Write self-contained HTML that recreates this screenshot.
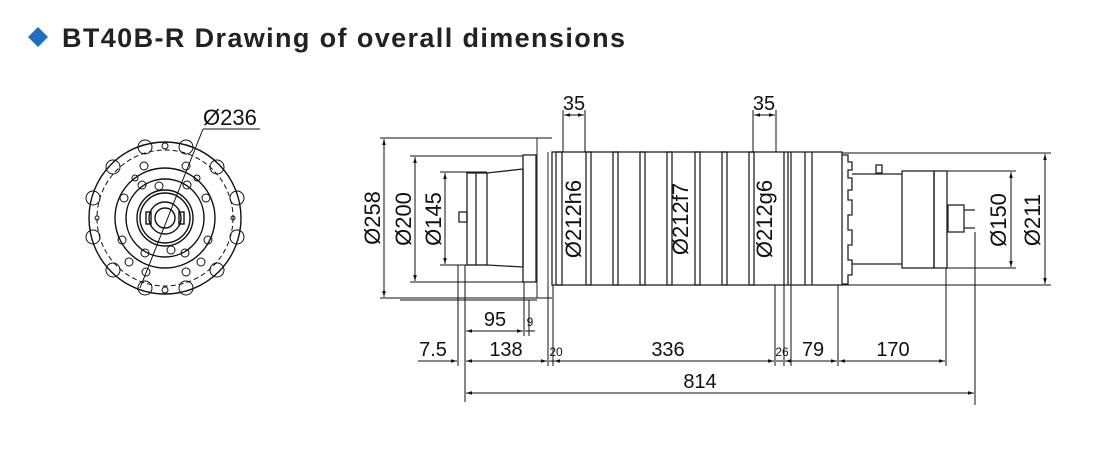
<!DOCTYPE html>
<html><head><meta charset="utf-8"><style>
html,body{margin:0;padding:0;background:#fff;}
svg{display:block;}
text{font-family:"Liberation Sans",sans-serif;fill:#111;}
</style></head><body>
<svg width="1103" height="461" viewBox="0 0 1103 461" xmlns="http://www.w3.org/2000/svg">
<defs>
<marker id="a" viewBox="0 0 10 10" refX="10" refY="5" markerWidth="6" markerHeight="6" orient="auto-start-reverse"><path d="M0,2 L10,5 L0,8 z" fill="#111"/></marker>
</defs>
<!-- title -->
<path d="M38,27 L48,37 L38,47 L28,37 z" fill="#1b6fc6"/>
<text x="62" y="47" font-size="27" font-weight="bold" textLength="563" lengthAdjust="spacing" style="fill:#222">BT40B-R Drawing of overall dimensions</text>

<!-- front view -->
<g fill="none" stroke="#111" stroke-width="1.4">
<circle cx="165" cy="218" r="76"/>
<circle cx="165" cy="218" r="68" stroke-dasharray="5,3" stroke-width="1"/>
<circle cx="165" cy="218" r="50"/>
<circle cx="165" cy="218" r="39"/>
<circle cx="165" cy="218" r="28"/>
<circle cx="165" cy="218" r="25"/>
<circle cx="165" cy="218" r="16"/>
<circle cx="165" cy="218" r="10"/>
<rect x="146" y="212" width="5" height="12"/>
<rect x="179" y="212" width="5" height="12"/>
</g>
<g fill="none" stroke="#111" stroke-width="1">
<circle cx="145" cy="147" r="7"/><circle cx="186" cy="147" r="7"/>
<circle cx="113" cy="167" r="7"/><circle cx="217" cy="167" r="7"/>
<circle cx="93" cy="198" r="7"/><circle cx="237" cy="198" r="7"/>
<circle cx="93" cy="237" r="7"/><circle cx="237" cy="237" r="7"/>
<circle cx="113" cy="270" r="7"/><circle cx="217" cy="270" r="7"/>
<circle cx="145" cy="288" r="7"/><circle cx="186" cy="288" r="7"/>
<circle cx="165" cy="146" r="3"/><circle cx="165" cy="290" r="3"/>
<circle cx="97" cy="218" r="2"/><circle cx="233" cy="218" r="2"/>
<!-- mid holes -->
<circle cx="142" cy="185" r="4"/><circle cx="187" cy="185" r="4"/>
<circle cx="206" cy="198" r="4"/><circle cx="124" cy="198" r="4"/>
<circle cx="208" cy="240" r="4"/><circle cx="122" cy="240" r="4"/>
<circle cx="185" cy="253" r="4"/><circle cx="145" cy="253" r="4"/>
<circle cx="171" cy="250" r="4"/><circle cx="159" cy="186" r="4"/>
<circle cx="201" cy="262" r="4"/><circle cx="129" cy="262" r="4"/>
<circle cx="146" cy="272" r="4"/><circle cx="186" cy="272" r="4"/>
<circle cx="144" cy="166" r="4"/><circle cx="186" cy="166" r="4"/>
<circle cx="135" cy="178" r="3"/><circle cx="197" cy="178" r="3"/>
</g>
<line x1="203" y1="129" x2="260" y2="129" stroke="#111" stroke-width="1"/>
<line x1="203" y1="129" x2="140" y2="288" stroke="#111" stroke-width="1"/>
<text x="203" y="125" font-size="22">Ø236</text>

<!-- side view body -->
<g fill="none" stroke="#222" stroke-width="1.3">
<rect x="467" y="173" width="20" height="92"/>
<line x1="476" y1="173" x2="476" y2="265"/>
<path d="M487,173 L523,169 L523,267 L487,265"/>
<rect x="459" y="212" width="8" height="10"/>
<rect x="523" y="155" width="13" height="127"/>
<line x1="537" y1="138" x2="537" y2="298" stroke-width="1"/>
<line x1="548" y1="152" x2="548" y2="285" stroke-width="1"/>
<rect x="552" y="152" width="290" height="133"/>
<rect x="556" y="152" width="6" height="133"/>
<rect x="586" y="152" width="5" height="133"/>
<rect x="613" y="152" width="5" height="133"/>
<rect x="640" y="152" width="5" height="133"/>
<rect x="667" y="152" width="5" height="133"/>
<rect x="695" y="152" width="5" height="133"/>
<rect x="722" y="152" width="5" height="133"/>
<rect x="749" y="152" width="5" height="133"/>
<line x1="784" y1="152" x2="784" y2="285"/>
<line x1="788" y1="152" x2="788" y2="285"/>
<line x1="791" y1="152" x2="791" y2="285"/>
<line x1="805" y1="152" x2="805" y2="285"/>
<line x1="812" y1="152" x2="812" y2="285"/>
<path d="M842,155 L848,155 L848,162 L852,162 L852,170 L848,170 L848,178 L852,178 L852,190 L848,190 L848,200 L852,200 L852,215 L848,215 L848,230 L852,230 L852,245 L848,245 L848,260 L852,260 L852,275 L848,275 L848,284 L842,284"/>
<line x1="852" y1="174" x2="902" y2="174"/>
<line x1="852" y1="264" x2="902" y2="264"/>
<rect x="876" y="165" width="6" height="8"/>
<rect x="902" y="171" width="32" height="97"/>
<rect x="934" y="171" width="13" height="97"/>
<rect x="948" y="205" width="16" height="27"/>
<path d="M964,210 L975,210 M964,228 L975,228"/>
</g>

<g stroke="#111" stroke-width="1" fill="none">
<line x1="380" y1="138" x2="552" y2="138"/>
<line x1="380" y1="298" x2="552" y2="298"/>
<line x1="410" y1="156" x2="523" y2="156"/>
<line x1="410" y1="282" x2="523" y2="282"/>
<line x1="440" y1="172" x2="487" y2="172"/>
<line x1="440" y1="265" x2="487" y2="265"/>
<line x1="384" y1="139" x2="384" y2="297" marker-start="url(#a)" marker-end="url(#a)"/>
<line x1="415" y1="157" x2="415" y2="281" marker-start="url(#a)" marker-end="url(#a)"/>
<line x1="445" y1="173" x2="445" y2="264" marker-start="url(#a)" marker-end="url(#a)"/>
<line x1="947" y1="171" x2="1016" y2="171"/>
<line x1="947" y1="268" x2="1016" y2="268"/>
<line x1="842" y1="153" x2="1051" y2="153"/>
<line x1="842" y1="285" x2="1051" y2="285"/>
<line x1="1011" y1="172" x2="1011" y2="267" marker-start="url(#a)" marker-end="url(#a)"/>
<line x1="1045" y1="154" x2="1045" y2="284" marker-start="url(#a)" marker-end="url(#a)"/>
<line x1="563" y1="110" x2="563" y2="152"/><line x1="585" y1="110" x2="585" y2="152"/>
<line x1="753" y1="110" x2="753" y2="152"/><line x1="776" y1="110" x2="776" y2="152"/>
<line x1="564" y1="115" x2="584" y2="115" marker-start="url(#a)" marker-end="url(#a)"/>
<line x1="754" y1="115" x2="775" y2="115" marker-start="url(#a)" marker-end="url(#a)"/>
<line x1="465" y1="265" x2="465" y2="402"/>
<line x1="458" y1="265" x2="458" y2="366"/>
<line x1="524" y1="282" x2="524" y2="336"/>
<line x1="529" y1="300" x2="529" y2="336"/>
<line x1="548" y1="285" x2="548" y2="366"/>
<line x1="553" y1="285" x2="553" y2="366"/>
<line x1="775" y1="285" x2="775" y2="366"/>
<line x1="784" y1="285" x2="784" y2="366"/>
<line x1="791" y1="285" x2="791" y2="366"/>
<line x1="838" y1="285" x2="838" y2="366"/>
<line x1="946" y1="268" x2="946" y2="366"/>
<line x1="975" y1="232" x2="975" y2="405"/>
<line x1="400" y1="300" x2="537" y2="300"/>
<line x1="466" y1="331" x2="523" y2="331" marker-start="url(#a)" marker-end="url(#a)"/>
<line x1="525" y1="331" x2="535" y2="331"/>
<line x1="418" y1="361" x2="457" y2="361" marker-end="url(#a)"/>
<line x1="466" y1="361" x2="547" y2="361" marker-start="url(#a)" marker-end="url(#a)"/>
<line x1="549" y1="361" x2="560" y2="361"/>
<line x1="554" y1="361" x2="774" y2="361" marker-start="url(#a)" marker-end="url(#a)"/>
<line x1="776" y1="361" x2="783" y2="361"/>
<line x1="785" y1="361" x2="837" y2="361" marker-start="url(#a)" marker-end="url(#a)"/>
<line x1="839" y1="361" x2="945" y2="361" marker-start="url(#a)" marker-end="url(#a)"/>
<line x1="466" y1="393" x2="974" y2="393" marker-start="url(#a)" marker-end="url(#a)"/>
</g>

<g font-size="22">
<text transform="translate(380,218) rotate(-90)" text-anchor="middle">Ø258</text>
<text transform="translate(411,219) rotate(-90)" text-anchor="middle">Ø200</text>
<text transform="translate(441,219) rotate(-90)" text-anchor="middle">Ø145</text>
<text transform="translate(581,219) rotate(-90)" text-anchor="middle">Ø212h6</text>
<text transform="translate(688,219) rotate(-90)" text-anchor="middle">Ø212f7</text>
<text transform="translate(772,219) rotate(-90)" text-anchor="middle">Ø212g6</text>
<text transform="translate(1006,220) rotate(-90)" text-anchor="middle">Ø150</text>
<text transform="translate(1040,220) rotate(-90)" text-anchor="middle">Ø211</text>
<text x="574" y="110" text-anchor="middle" font-size="20">35</text>
<text x="764" y="110" text-anchor="middle" font-size="20">35</text>
<text x="495" y="326" text-anchor="middle" font-size="20">95</text>
<text x="530" y="326" text-anchor="middle" font-size="12">9</text>
<text x="433" y="356" text-anchor="middle" font-size="20">7.5</text>
<text x="506" y="356" text-anchor="middle" font-size="20">138</text>
<text x="556" y="356" text-anchor="middle" font-size="12">20</text>
<text x="668" y="356" text-anchor="middle" font-size="20">336</text>
<text x="782" y="356" text-anchor="middle" font-size="12">26</text>
<text x="813" y="356" text-anchor="middle" font-size="20">79</text>
<text x="893" y="356" text-anchor="middle" font-size="20">170</text>
<text x="700" y="388" text-anchor="middle" font-size="20">814</text>
</g>
</svg>
</body></html>
